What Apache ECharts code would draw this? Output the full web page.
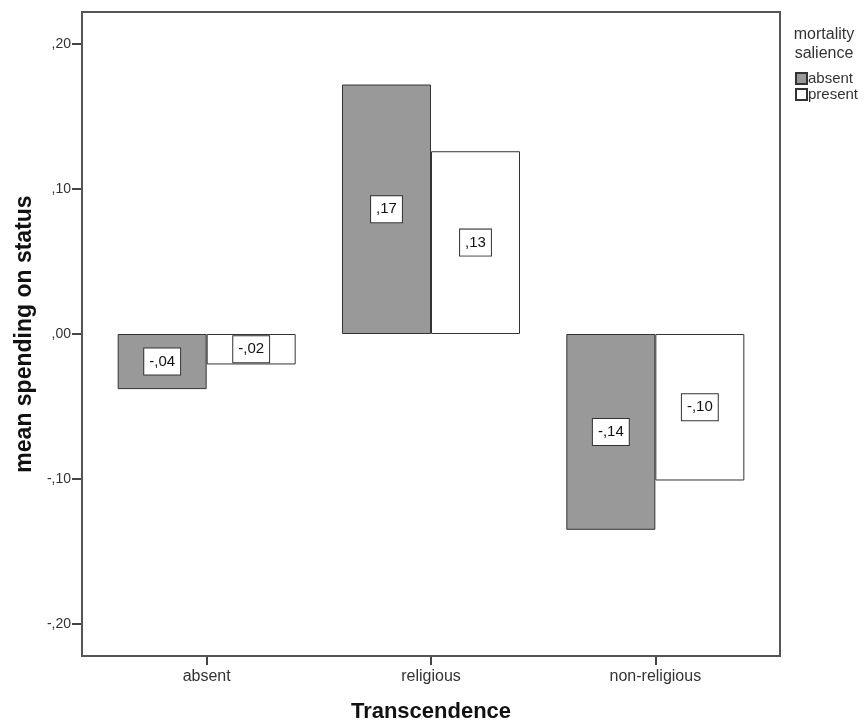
<!DOCTYPE html>
<html>
<head>
<meta charset="utf-8">
<script src="https://cdn.jsdelivr.net/npm/echarts@6/dist/echarts.min.js"></script>
<style>
  html, body { margin: 0; padding: 0; background: #fff; }
  #chart { width: 868px; height: 720px; }
</style>
</head>
<body>
<div id="chart"></div>
<script>
const categories = ['absent', 'religious', 'non-religious'];
const absentVals = [-0.038, 0.172, -0.135];
const presentVals = [-0.021, 0.126, -0.101];
const yTicks = [-0.2, -0.1, 0, 0.1, 0.2];

// SPSS style: ",17" / "-,04"
function spss(v) {
    let s = Math.abs(v).toFixed(2).replace(/^0/, '').replace('.', ',');
    return (v < 0 ? '-' : '') + s;
}

const chart = echarts.init(document.getElementById('chart'));

const labelStyle = {
    show: true,
    position: 'inside',
    color: '#111',
    fontFamily: 'Liberation Sans',
    fontSize: 15,
    lineHeight: 15,
    backgroundColor: '#fff',
    borderColor: '#333',
    borderWidth: 1,
    padding: [6, 5, 5, 5],
    formatter: (p) => spss(p.value)
};

chart.setOption({
    animation: false,
    textStyle: { fontFamily: 'Liberation Sans' },
    legend: {
        orient: 'vertical',
        left: 790, top: 66,
        itemWidth: 11, itemHeight: 11, itemGap: 1,
        icon: 'rect',
        textStyle: { fontSize: 15, color: '#333', padding: [0, 0, 0, -4] },
        data: ['absent', 'present']
    },
    grid: { left: 94.5, right: 100.5, top: 12, bottom: 64, containLabel: false, outerBoundsMode: 'none' },
    graphic: [
        {
            type: 'rect',
            shape: { x: 82, y: 12, width: 698, height: 644 },
            style: { fill: 'none', stroke: '#555', lineWidth: 2 },
            z: 10
        },
        {
            type: 'text',
            x: 824, y: 25,
            style: {
                text: 'mortality\nsalience',
                textAlign: 'center',
                fontSize: 16, lineHeight: 19,
                fill: '#333',
                fontFamily: 'Liberation Sans'
            }
        }
    ],
    xAxis: {
        type: 'category',
        data: categories,
        name: 'Transcendence',
        nameLocation: 'middle',
        nameGap: 45,
        nameTextStyle: { fontSize: 22, fontWeight: 'bold', color: '#111' },
        axisLine: { show: false, onZero: false },
        axisTick: { show: true, inside: false, alignWithLabel: true, length: 9, lineStyle: { color: '#444', width: 2 } },
        axisLabel: { fontSize: 16, color: '#333', margin: 13 }
    },
    yAxis: {
        type: 'value',
        min: -0.222, max: 0.222,
        offset: 12.5,
        name: 'mean spending on status',
        nameLocation: 'middle',
        nameGap: 46,
        nameTextStyle: { fontSize: 23, fontWeight: 'bold', color: '#111' },
        splitLine: { show: false },
        axisLine: { show: true, lineStyle: { color: '#555', width: 2 } },
        axisTick: { show: true, length: 10, customValues: yTicks, lineStyle: { color: '#444', width: 2 } },
        axisLabel: { fontSize: 14, color: '#333', margin: 11, customValues: yTicks, formatter: (v) => spss(v) }
    },
    series: [
        {
            name: 'absent',
            type: 'bar',
            data: absentVals,
            barWidth: 89,
            barGap: '0%',
            itemStyle: { color: '#999999', borderColor: '#333', borderWidth: 1 },
            label: labelStyle
        },
        {
            name: 'present',
            type: 'bar',
            data: presentVals,
            barWidth: 89,
            barGap: '0%',
            itemStyle: { color: '#ffffff', borderColor: '#333', borderWidth: 1 },
            label: labelStyle
        }
    ]
});
</script>
</body>
</html>
